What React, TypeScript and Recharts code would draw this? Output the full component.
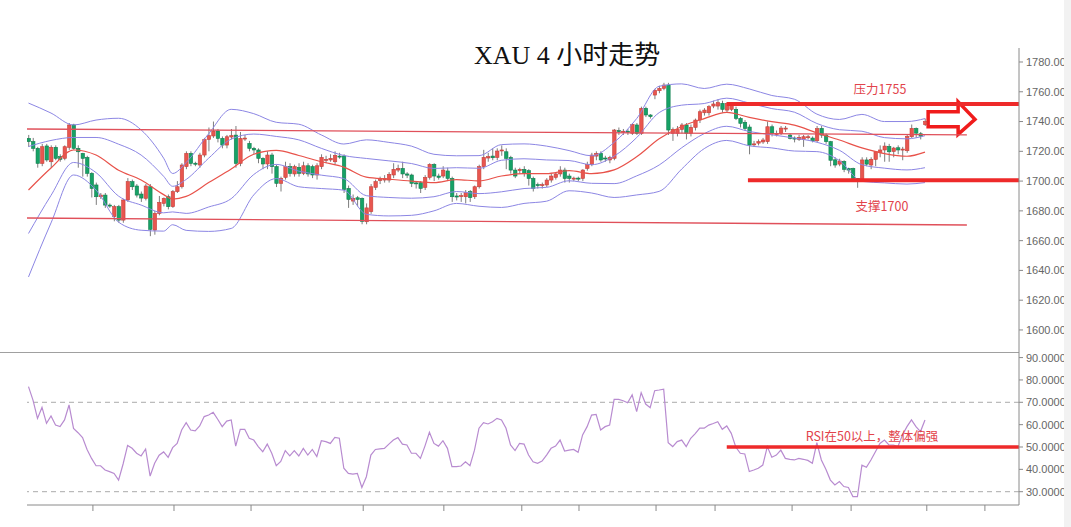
import React from "react";
import {
  ComposedChart,
  Bar,
  Line,
  XAxis,
  YAxis,
  ReferenceLine,
  ReferenceArea,
} from "recharts";

// XAU 4H candles (200 bars)
const opens = [
  1728.7, 1726.5, 1722.0, 1711.9, 1723.6, 1713.0, 1722.7, 1716.4, 1715.3, 1722.7,
  1737.7, 1722.0, 1718.6, 1715.9, 1705.2, 1697.4, 1689.5, 1690.6, 1683.9, 1676.1,
  1682.8, 1673.8, 1687.3, 1699.6, 1696.7, 1691.3, 1688.4, 1696.2, 1667.1, 1678.3,
  1685.0, 1689.5, 1682.8, 1692.9, 1696.2, 1709.7, 1718.6, 1712.0, 1710.8, 1717.5,
  1728.0, 1730.3, 1733.6, 1728.7, 1724.2, 1729.6, 1730.9, 1711.9, 1728.5, 1725.3,
  1722.0, 1720.9, 1715.3, 1711.5, 1717.5, 1709.7, 1698.5, 1702.5, 1709.7, 1704.8,
  1709.2, 1705.2, 1710.3, 1709.7, 1704.1, 1709.7, 1714.2, 1714.2, 1713.0, 1716.8,
  1716.8, 1695.1, 1686.6, 1688.8, 1688.4, 1672.7, 1679.5, 1695.8, 1700.5, 1700.7,
  1700.7, 1704.1, 1707.4, 1708.5, 1704.8, 1704.1, 1698.8, 1698.9, 1695.8, 1702.5,
  1711.2, 1703.4, 1703.4, 1706.8, 1701.8, 1690.0, 1689.8, 1689.5, 1692.9, 1689.5,
  1696.2, 1709.7, 1715.5, 1716.8, 1715.9, 1720.5, 1719.7, 1715.9, 1707.4, 1707.0,
  1707.9, 1707.0, 1701.8, 1697.6, 1697.2, 1697.4, 1700.7, 1702.5, 1704.8, 1707.4,
  1703.4, 1701.6, 1702.0, 1701.8, 1708.5, 1711.2, 1716.8, 1718.6, 1715.5, 1714.2,
  1715.3, 1733.9, 1733.2, 1733.5, 1732.1, 1737.7, 1732.1, 1748.9, 1744.4, 1757.8,
  1760.7, 1762.3, 1764.5, 1732.1, 1732.1, 1734.7, 1737.7, 1732.1, 1736.1, 1741.0,
  1745.9, 1745.9, 1750.4, 1750.4, 1752.2, 1747.7, 1748.2, 1748.2, 1742.1, 1739.5,
  1736.3, 1724.6, 1725.5, 1726.3, 1726.5, 1736.5, 1731.5, 1732.1, 1735.2, 1730.9,
  1728.9, 1728.0, 1728.0, 1729.6, 1728.9, 1727.1, 1735.4, 1730.9, 1726.5, 1714.3,
  1711.4, 1713.2, 1708.5, 1708.5, 1701.8, 1700.7, 1714.2, 1710.8, 1714.6, 1719.1,
  1720.9, 1723.3, 1719.9, 1722.4, 1720.9, 1720.4, 1729.8, 1735.4, 1731.8, 1737.9,
];

const highs = [
  1731, 1729, 1723, 1725, 1725, 1724, 1724, 1718, 1724, 1739,
  1738.5, 1724, 1719, 1717, 1706, 1699, 1692, 1692, 1685, 1684,
  1684, 1688, 1702, 1701, 1698, 1693, 1698, 1698, 1680, 1690,
  1689, 1691, 1694, 1700, 1712, 1720, 1720, 1713, 1719, 1729,
  1736, 1740, 1735, 1730, 1731, 1735, 1737, 1733, 1731, 1727,
  1723, 1722, 1716, 1720, 1719, 1711, 1703, 1713, 1712, 1711,
  1712, 1713, 1712, 1711, 1712, 1718, 1717, 1718, 1720, 1719,
  1718, 1697, 1691, 1690, 1689, 1685, 1698, 1701, 1703, 1704,
  1706, 1712, 1711, 1713, 1706, 1705, 1700, 1700, 1704, 1712,
  1712, 1705, 1710, 1709, 1703, 1692, 1692, 1694, 1694, 1697,
  1711, 1721, 1719, 1722, 1722, 1724, 1722, 1717, 1709, 1709,
  1710, 1708, 1703, 1699, 1699, 1702, 1705, 1706, 1710, 1709,
  1705, 1703, 1703, 1708, 1713, 1719, 1720, 1720, 1717, 1717,
  1735, 1736, 1735, 1735, 1739, 1739, 1750, 1750, 1745, 1762,
  1764, 1766, 1766, 1736, 1737, 1739, 1739, 1738, 1742, 1748,
  1749, 1751, 1754, 1755, 1754, 1753, 1753, 1750, 1743, 1741,
  1738, 1727, 1728, 1729, 1740, 1738, 1734, 1737, 1737, 1732,
  1730, 1731, 1731, 1731, 1730, 1737, 1737, 1732, 1727, 1716,
  1715, 1714, 1709, 1709, 1702, 1716, 1716, 1716, 1720, 1724,
  1726, 1725, 1723, 1724, 1723, 1731, 1738, 1736, 1733, 1742,
];

const lows = [
  1723, 1720, 1709, 1710, 1713, 1709, 1714, 1713, 1714, 1721,
  1721, 1709, 1703, 1703, 1689, 1684, 1688, 1682, 1682, 1673,
  1672, 1672, 1686, 1694, 1689, 1686, 1687, 1663, 1664, 1677,
  1683, 1681, 1682, 1692, 1695, 1708, 1710, 1710, 1709, 1716,
  1720, 1729, 1726, 1722, 1722, 1728, 1709, 1710, 1727, 1720,
  1718, 1712, 1708, 1708, 1705, 1696, 1693, 1701, 1703, 1703,
  1703, 1704, 1703, 1702, 1701, 1708, 1712, 1713, 1711, 1715,
  1692, 1682, 1684, 1683, 1671, 1671, 1678, 1694, 1698, 1699,
  1699, 1702, 1706, 1702, 1702, 1696, 1695, 1692, 1694, 1701,
  1700, 1701, 1702, 1700, 1686, 1687, 1686, 1685, 1686, 1688,
  1695, 1708, 1713, 1714, 1714, 1717, 1708, 1705, 1702, 1705,
  1703, 1697, 1693, 1695, 1695, 1696, 1699, 1701, 1703, 1699,
  1699, 1700, 1700, 1700, 1707, 1710, 1714, 1713, 1713, 1712,
  1714, 1731, 1731, 1731, 1731, 1731, 1731, 1743, 1742, 1755,
  1759, 1761, 1731, 1727, 1730, 1732, 1728, 1730, 1734, 1739,
  1744, 1744, 1749, 1748, 1746, 1746, 1747, 1741, 1736, 1734,
  1718, 1723, 1724, 1725, 1725, 1730, 1730, 1731, 1733, 1728,
  1726, 1727, 1723, 1728, 1726, 1726, 1729, 1725, 1710, 1709,
  1710, 1706, 1705, 1700, 1695.5, 1700, 1710, 1708, 1710, 1716,
  1713, 1713, 1716, 1718, 1714, 1719, 1729, 1729, 1728, 1737,
];

const closes = [
  1726.5, 1722.0, 1711.9, 1723.1, 1714.2, 1722.7, 1715.3, 1714.6, 1723.1, 1737.7,
  1722.0, 1719.7, 1715.3, 1705.2, 1695.1, 1689.5, 1690.6, 1683.9, 1683.2, 1682.8,
  1673.8, 1687.3, 1699.6, 1696.2, 1690.6, 1688.6, 1696.7, 1667.6, 1678.3, 1685.7,
  1688.4, 1682.8, 1692.9, 1696.2, 1710.8, 1718.6, 1711.9, 1711.5, 1717.5, 1728.0,
  1730.5, 1733.6, 1728.7, 1724.2, 1729.8, 1730.5, 1711.9, 1728.7, 1728.9, 1722.0,
  1720.9, 1715.3, 1711.5, 1717.5, 1709.7, 1698.5, 1701.8, 1709.7, 1705.2, 1709.7,
  1705.2, 1710.3, 1704.8, 1704.1, 1710.3, 1715.9, 1714.6, 1715.3, 1717.3, 1716.4,
  1694.4, 1687.7, 1688.4, 1687.7, 1673.0, 1682.0, 1696.2, 1699.6, 1701.0, 1701.8,
  1704.5, 1707.9, 1708.5, 1704.8, 1704.0, 1698.5, 1698.3, 1695.1, 1702.5, 1711.2,
  1703.4, 1702.5, 1707.4, 1701.8, 1689.5, 1689.3, 1690.2, 1692.2, 1688.9, 1696.2,
  1709.7, 1715.9, 1716.4, 1715.7, 1720.2, 1720.9, 1715.3, 1707.4, 1703.4, 1707.9,
  1705.2, 1701.8, 1695.1, 1697.2, 1697.6, 1700.7, 1703.4, 1704.8, 1707.4, 1701.8,
  1701.8, 1702.0, 1701.6, 1707.4, 1711.2, 1717.5, 1718.6, 1714.2, 1715.1, 1715.9,
  1734.3, 1733.2, 1733.5, 1733.0, 1738.1, 1732.1, 1748.9, 1744.4, 1743.3, 1761.0,
  1762.3, 1764.5, 1734.3, 1734.7, 1734.7, 1737.7, 1732.1, 1736.1, 1741.0, 1746.6,
  1747.7, 1750.0, 1751.8, 1752.7, 1748.2, 1752.2, 1751.5, 1742.1, 1738.8, 1735.4,
  1724.2, 1725.0, 1726.5, 1727.6, 1736.5, 1732.1, 1732.0, 1735.6, 1735.6, 1728.7,
  1728.7, 1729.4, 1729.8, 1729.8, 1727.1, 1735.2, 1730.9, 1726.5, 1714.0, 1710.8,
  1713.5, 1707.9, 1707.4, 1701.8, 1700.7, 1714.2, 1711.4, 1714.6, 1719.7, 1720.9,
  1723.5, 1719.7, 1722.2, 1720.9, 1721.5, 1730.0, 1735.4, 1732.2, 1730.2, 1740.0,
];

// RSI, one value per candle
const rsi14 = [
  77.0, 71.0, 62.8, 67.7, 60.6, 63.9, 59.8, 59.1, 62.1, 68.8,
  58.3, 56.4, 54.2, 48.9, 44.9, 41.6, 41.6, 39.7, 39.0, 38.2,
  35.2, 42.4, 50.7, 49.4, 47.2, 46.0, 49.1, 37.0, 42.7, 46.3,
  47.8, 45.4, 49.7, 51.6, 57.6, 60.9, 57.6, 57.2, 59.4, 63.6,
  64.3, 65.5, 62.4, 59.1, 61.6, 62.1, 50.4, 57.9, 57.9, 53.9,
  53.1, 50.2, 47.9, 51.3, 47.2, 41.6, 43.5, 48.4, 46.0, 48.4,
  46.0, 49.4, 46.4, 48.9, 45.7, 52.8, 52.4, 51.6, 54.3, 53.9,
  40.5, 38.2, 37.9, 38.2, 31.9, 36.7, 46.4, 48.9, 49.2, 49.4,
  51.3, 53.1, 54.2, 51.3, 50.9, 47.2, 47.2, 44.9, 50.4, 56.6,
  51.6, 50.4, 52.8, 49.4, 41.2, 41.2, 41.5, 43.4, 41.6, 48.6,
  58.4, 60.9, 60.3, 61.3, 62.8, 62.1, 58.4, 50.9, 48.4, 51.6,
  51.3, 46.4, 43.4, 42.7, 43.7, 46.4, 49.4, 50.4, 53.1, 48.2,
  48.6, 48.9, 47.6, 55.4, 59.1, 64.3, 64.6, 57.6, 59.1, 59.8,
  71.3, 71.3, 70.7, 69.8, 73.3, 65.8, 74.3, 69.2, 67.6, 75.2,
  75.5, 75.9, 51.9, 50.2, 52.4, 53.1, 50.2, 53.9, 56.0, 58.4,
  58.4, 59.8, 60.5, 61.3, 57.9, 59.4, 56.1, 50.0, 47.2, 46.9,
  39.0, 39.7, 40.5, 41.9, 50.2, 45.4, 46.4, 48.6, 44.9, 44.5,
  44.2, 44.9, 44.5, 44.0, 42.7, 51.9, 44.2, 40.0, 35.2, 33.0,
  34.5, 32.3, 31.9, 27.8, 27.8, 41.9, 40.9, 44.2, 47.9, 51.6,
  53.1, 50.9, 50.9, 50.2, 55.4, 59.1, 62.1, 59.1, 56.9, 62.1,
];

// Bollinger lines, read at these bars
const bandBars = [
  0, 5, 10, 15, 20, 25, 30, 32, 35, 40, 45, 50, 55, 60, 65, 70, 75, 80, 85, 90,
  95, 100, 105, 110, 115, 120, 125, 130, 135, 140, 145, 150, 155, 160, 165, 170,
  175, 180, 185, 190, 195, 199,
];
const bbUpper2 = [
  1752.4, 1745.7, 1737.7, 1741.0, 1742.2, 1734.4, 1715.4, 1705.1, 1712.5, 1731.8,
  1748.2, 1745.3, 1739.5, 1738.2, 1731.0, 1724.9, 1727.7, 1726.0, 1723.5, 1718.0,
  1717.0, 1717.1, 1724.5, 1725.0, 1723.5, 1720.5, 1717.0, 1726.0, 1742.0, 1763.7,
  1765.3, 1762.2, 1765.1, 1761.9, 1757.5, 1755.0, 1745.0, 1741.4, 1744.8, 1740.0,
  1740.0, 1742.0,
];
const bbUpper1 = [
  1723.2, 1727.3, 1729.3, 1729.3, 1724.8, 1717.5, 1703.2, 1696.5, 1701.1, 1715.4,
  1728.2, 1731.6, 1730.0, 1727.7, 1722.0, 1717.2, 1715.2, 1713.6, 1711.8, 1708.5,
  1709.0, 1708.6, 1714.0, 1715.0, 1714.2, 1713.8, 1711.0, 1716.8, 1729.2, 1746.0,
  1751.0, 1752.1, 1755.7, 1752.4, 1748.7, 1746.3, 1738.7, 1734.5, 1733.5, 1729.2,
  1728.4, 1730.5,
];
const bbMid = [
  1694.0, 1708.8, 1720.9, 1717.5, 1707.3, 1700.7, 1690.9, 1687.9, 1689.7, 1699.0,
  1708.2, 1718.0, 1720.6, 1717.2, 1713.0, 1709.4, 1702.7, 1701.3, 1700.0, 1699.0,
  1701.0, 1700.1, 1703.4, 1705.0, 1705.0, 1707.0, 1705.0, 1707.5, 1716.3, 1728.4,
  1736.7, 1742.0, 1746.2, 1742.8, 1739.9, 1737.6, 1732.4, 1727.6, 1722.3, 1718.5,
  1716.7, 1719.5,
];
const bbLower1 = [
  1664.8, 1690.4, 1712.5, 1705.7, 1689.9, 1683.9, 1678.7, 1679.3, 1678.3, 1682.6,
  1688.2, 1704.4, 1711.2, 1706.7, 1704.0, 1701.7, 1690.2, 1689.0, 1688.5, 1689.5,
  1693.0, 1691.6, 1692.8, 1695.0, 1695.8, 1700.2, 1698.5, 1698.3, 1703.5, 1710.8,
  1722.4, 1731.9, 1736.8, 1733.3, 1731.1, 1728.9, 1726.1, 1720.7, 1711.0, 1708.7,
  1707.5, 1709.0,
];
const bbLower2 = [
  1635.6, 1671.9, 1704.1, 1694.0, 1672.4, 1667.0, 1666.4, 1670.7, 1666.9, 1666.2,
  1668.2, 1690.7, 1701.7, 1696.2, 1695.0, 1693.9, 1677.7, 1676.6, 1677.0, 1680.0,
  1685.0, 1683.1, 1682.3, 1685.0, 1686.5, 1693.5, 1692.0, 1689.0, 1690.7, 1693.1,
  1708.1, 1721.8, 1727.3, 1723.7, 1722.3, 1720.2, 1719.8, 1713.8, 1699.8, 1698.8,
  1698.0, 1699.0,
];

const priceTicks = [1600, 1620, 1640, 1660, 1680, 1700, 1720, 1740, 1760, 1780];
const rsiTicks = [30, 40, 50, 60, 70, 80, 90];
const sessionTicks = [14.3, 32.3, 49.4, 74.3, 92.2, 109.5, 122.2, 139.3, 152.4, 169.5, 182.6, 199.4, 212.3];

// drawn levels
const channelTop = [1735.0, 1731.0];
const channelBottom = [1675.2, 1670.5];
const channelSpan = [-0.33, 208.3];
const resistance = 1751.8;
const support = 1700.6;
const levelStartRes = 155;
const levelStartSup = 159.7;
const rsiLevel = 50;

const X_DOMAIN: [number, number] = [-0.33, 219.87];
const BAND = "#8c86e4";
const LEVEL = "#ee2a2a";
const NOTE = "#e2434b";

const rows = closes.map((c, i) => ({
  i,
  range: [lows[i], highs[i]],
  open: opens[i],
  close: c,
  high: highs[i],
  low: lows[i],
}));
bandBars.forEach((b, k) => {
  Object.assign(rows[b], {
    up2: bbUpper2[k],
    up1: bbUpper1[k],
    mid: bbMid[k],
    lo1: bbLower1[k],
    lo2: bbLower2[k],
  });
});

const rsiRows = rsi14.map((v, i) => ({ i, rsi: v }));

const Candle = (props: any) => {
  const { x, y, width, height, payload } = props;
  if (!payload || x == null || y == null) return null;
  const { open, close, high, low } = payload;
  const top0 = Math.min(y, y + height);
  const h = Math.abs(height);
  const ppu = high > low ? h / (high - low) : 0;
  const cx = x + width / 2;
  const bTop = top0 + (high - Math.max(open, close)) * ppu;
  const bBot = top0 + (high - Math.min(open, close)) * ppu;
  const up = close >= open;
  return (
    <g>
      <line x1={cx} x2={cx} y1={top0} y2={top0 + h} stroke="#7d7d7d" strokeWidth={1} />
      <rect
        x={cx - 1.7}
        y={bTop}
        width={3.4}
        height={Math.max(bBot - bTop, 1)}
        fill={up ? "#e8564f" : "#16a266"}
        stroke={up ? "#c63f39" : "#0f7d4d"}
        strokeWidth={0.6}
      />
    </g>
  );
};

const ArrowShape = (p: any) => {
  const { x, y, width: w, height: h } = p;
  const pts = [
    [0, 0.31],
    [0.64, 0.31],
    [0.64, 0],
    [1, 0.54],
    [0.64, 1],
    [0.64, 0.77],
    [0, 0.77],
  ]
    .map(([a, b]) => `${x + a * w},${y + b * h}`)
    .join(" ");
  return <polygon points={pts} fill="#fff" stroke="#f01c1c" strokeWidth={3.5} />;
};

// bottom axis: short tick marks only, no labels
const SessionTick = (p: any) => (
  <line x1={p.x} x2={p.x} y1={505} y2={511} stroke="#8a8a8a" strokeWidth={1} transform={`translate(0, ${-352})`} />
);

const axisTick = { fontSize: 11, fill: "#666", fontFamily: "'Liberation Sans', Arial, sans-serif" };

const note = (left: number, top: number): React.CSSProperties => ({
  position: "absolute",
  left,
  top,
  transform: "translate(-50%, -50%)",
  color: NOTE,
  fontSize: 12.5,
  fontFamily: "'Noto Sans CJK SC', 'Noto Sans', sans-serif",
  whiteSpace: "nowrap",
});

export default function App() {
  return (
    <div style={{ position: "relative", width: 1071, height: 527, background: "#fff", overflow: "hidden" }}>
      <style>{"body{margin:0}"}</style>

      <div
        style={{
          position: "absolute",
          left: 474,
          top: 34,
          fontSize: 26,
          fontFamily: "'Liberation Serif', 'Noto Sans CJK SC', serif",
          color: "#111",
          whiteSpace: "pre",
        }}
      >
        XAU 4 小时走势
      </div>

      <div style={{ position: "absolute", left: 0, top: 0 }}>
        <ComposedChart width={1071} height={352} data={rows} margin={{ top: 48, right: 0, bottom: 0, left: 27 }}>
          <XAxis type="number" dataKey="i" domain={X_DOMAIN} allowDataOverflow hide />
          <YAxis
            orientation="right"
            width={52}
            domain={[1585.2, 1789.4]}
            allowDataOverflow
            ticks={priceTicks}
            interval={0}
            tickFormatter={(v: number) => v.toFixed(2)}
            tick={axisTick}
            tickSize={4}
            tickMargin={3}
            axisLine={{ stroke: "#8a8a8a" }}
            tickLine={{ stroke: "#8a8a8a" }}
          />
          <Line dataKey="up2" type="monotone" stroke={BAND} strokeWidth={1} dot={false} connectNulls isAnimationActive={false} />
          <Line dataKey="up1" type="monotone" stroke={BAND} strokeWidth={1} dot={false} connectNulls isAnimationActive={false} />
          <Line dataKey="lo1" type="monotone" stroke={BAND} strokeWidth={1} dot={false} connectNulls isAnimationActive={false} />
          <Line dataKey="lo2" type="monotone" stroke={BAND} strokeWidth={1} dot={false} connectNulls isAnimationActive={false} />
          <Line dataKey="mid" type="monotone" stroke="#e8524a" strokeWidth={1.2} dot={false} connectNulls isAnimationActive={false} />
          <Bar dataKey="range" barSize={3} shape={Candle} isAnimationActive={false} />
          <ReferenceLine
            segment={[
              { x: channelSpan[0], y: channelTop[0] },
              { x: channelSpan[1], y: channelTop[1] },
            ]}
            stroke="#e0505a"
            strokeWidth={1.3}
          />
          <ReferenceLine
            segment={[
              { x: channelSpan[0], y: channelBottom[0] },
              { x: channelSpan[1], y: channelBottom[1] },
            ]}
            stroke="#e0505a"
            strokeWidth={1.3}
          />
          <ReferenceLine
            segment={[
              { x: levelStartRes, y: resistance },
              { x: X_DOMAIN[1], y: resistance },
            ]}
            stroke={LEVEL}
            strokeWidth={4}
          />
          <ReferenceLine
            segment={[
              { x: levelStartSup, y: support },
              { x: X_DOMAIN[1], y: support },
            ]}
            stroke={LEVEL}
            strokeWidth={4}
          />
          <ReferenceArea x1={199.7} x2={210.1} y1={1731.4} y2={1753.3} shape={ArrowShape} ifOverflow="visible" />
        </ComposedChart>
      </div>

      <div style={{ position: "absolute", left: 0, top: 352, width: 1019, height: 1, background: "#a0a0a0" }} />

      <div style={{ position: "absolute", left: 0, top: 352 }}>
        <ComposedChart width={1071} height={175} data={rsiRows} margin={{ top: 0, right: 0, bottom: 0, left: 27 }}>
          <XAxis
            type="number"
            dataKey="i"
            domain={X_DOMAIN}
            allowDataOverflow
            ticks={sessionTicks}
            interval={0}
            tick={SessionTick}
            tickLine={false}
            height={22}
            axisLine={{ stroke: "#8a8a8a" }}
          />
          <YAxis
            orientation="right"
            width={52}
            domain={[24.05, 92.5]}
            allowDataOverflow
            ticks={rsiTicks}
            interval={0}
            tickFormatter={(v: number) => v.toFixed(4)}
            tick={axisTick}
            tickSize={4}
            tickMargin={3}
            axisLine={{ stroke: "#8a8a8a" }}
            tickLine={{ stroke: "#8a8a8a" }}
          />
          <ReferenceLine y={70} stroke="#aaa" strokeDasharray="5 4" />
          <ReferenceLine y={30} stroke="#aaa" strokeDasharray="5 4" />
          <Line dataKey="rsi" type="linear" stroke="#b88bd0" strokeWidth={1.2} dot={false} isAnimationActive={false} />
          <ReferenceLine
            segment={[
              { x: levelStartRes, y: rsiLevel },
              { x: X_DOMAIN[1], y: rsiLevel },
            ]}
            stroke={LEVEL}
            strokeWidth={3.5}
          />
        </ComposedChart>
      </div>

      <div style={note(880, 88)}>压力1755</div>
      <div style={note(882, 205)}>支撑1700</div>
      <div style={note(872, 435)}>RSI在50以上，整体偏强</div>

      <div style={{ position: "absolute", left: 1064, top: 0, width: 7, height: 527, background: "#f2f2f2" }} />
    </div>
  );
}
